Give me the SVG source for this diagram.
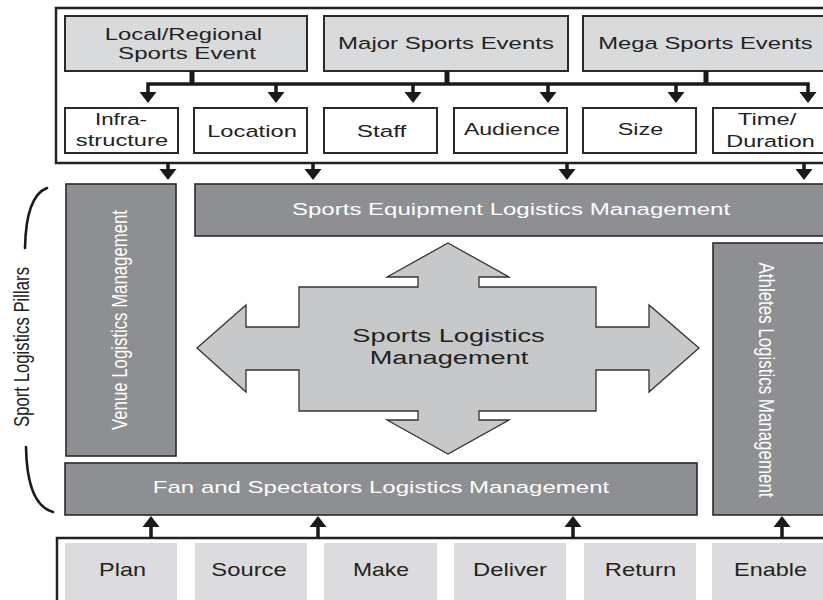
<svg xmlns="http://www.w3.org/2000/svg" xmlns:xlink="http://www.w3.org/1999/xlink" width="823" height="600" viewBox="0 0 823 600">
<style>
  .frame{fill:#fff;stroke:#222;stroke-width:2.5}
  .ev{fill:#d9dadc;stroke:#2a2a2a;stroke-width:2}
  .fac{fill:#fff;stroke:#2a2a2a;stroke-width:2}
  .pil{fill:#8e8f93;stroke:#2a2a2a;stroke-width:1.6}
  .step{fill:#dcdcde;stroke:none}
  .cross{fill:#c7c8ca;stroke:#333;stroke-width:1.3}
  .t{font-family:"Liberation Sans",Arial,sans-serif;fill:#222;text-anchor:middle}
  .w{fill:#fff}
  .conn{fill:none;stroke:#1a1a1a;stroke-width:3.5;stroke-linejoin:miter}
  .stem{fill:none;stroke:#1a1a1a;stroke-width:5}
  .ah{fill:#1a1a1a}
  .brace{fill:none;stroke:#1a1a1a;stroke-width:2.6;stroke-linecap:round}
</style>
<defs>
  <path id="ah" class="ah" d="M-8.5,-11 L8.5,-11 L0,0 Z"/>
</defs>
<rect width="823" height="600" fill="#fff"/>

<!-- frames -->
<rect id="topFrame" class="frame" x="56" y="8" width="790" height="155"/>
<rect id="bottomFrame" class="frame" x="57" y="538" width="790" height="80"/>

<!-- event nodes -->
<g id="local"><rect class="ev" x="65" y="16" width="242" height="55"/>
  <text class="t" font-size="17" textLength="121" lengthAdjust="spacingAndGlyphs" transform="translate(183.5,40) scale(1.3,1)">Local/Regional</text>
  <text class="t" font-size="17" textLength="106" lengthAdjust="spacingAndGlyphs" transform="translate(187,59) scale(1.3,1)">Sports Event</text></g>
<g id="major"><rect class="ev" x="324" y="16" width="244" height="55"/>
  <text class="t" font-size="17" textLength="166" lengthAdjust="spacingAndGlyphs" transform="translate(446,49) scale(1.3,1)">Major Sports Events</text></g>
<g id="mega"><rect class="ev" x="583" y="16" width="260" height="55"/>
  <text class="t" font-size="17" textLength="165" lengthAdjust="spacingAndGlyphs" transform="translate(705.5,49) scale(1.3,1)">Mega Sports Events</text></g>

<!-- factor nodes -->
<g id="infra"><rect class="fac" x="65" y="108" width="113" height="45"/>
  <text class="t" font-size="17" textLength="40" lengthAdjust="spacingAndGlyphs" transform="translate(121,125) scale(1.3,1)">Infra-</text>
  <text class="t" font-size="17" textLength="71" lengthAdjust="spacingAndGlyphs" transform="translate(122,146) scale(1.3,1)">structure</text></g>
<g id="location"><rect class="fac" x="194" y="108" width="113" height="45"/>
  <text class="t" font-size="17" textLength="69" lengthAdjust="spacingAndGlyphs" transform="translate(252,137) scale(1.3,1)">Location</text></g>
<g id="staff"><rect class="fac" x="324" y="108" width="113" height="45"/>
  <text class="t" font-size="17" textLength="38" lengthAdjust="spacingAndGlyphs" transform="translate(381.5,137) scale(1.3,1)">Staff</text></g>
<g id="audience"><rect class="fac" x="454" y="108" width="113" height="45"/>
  <text class="t" font-size="17" textLength="74" lengthAdjust="spacingAndGlyphs" transform="translate(512,135) scale(1.3,1)">Audience</text></g>
<g id="size"><rect class="fac" x="583" y="108" width="113" height="45"/>
  <text class="t" font-size="17" textLength="35" lengthAdjust="spacingAndGlyphs" transform="translate(640.5,135) scale(1.3,1)">Size</text></g>
<g id="time"><rect class="fac" x="713" y="108" width="130" height="45"/>
  <text class="t" font-size="17" textLength="45" lengthAdjust="spacingAndGlyphs" transform="translate(767,125) scale(1.3,1)">Time/</text>
  <text class="t" font-size="17" textLength="68" lengthAdjust="spacingAndGlyphs" transform="translate(770.5,147) scale(1.3,1)">Duration</text></g>

<!-- pillars -->
<g id="venue"><rect class="pil" x="66" y="184" width="110" height="272"/>
  <text class="t w" font-size="16.5" textLength="220" lengthAdjust="spacingAndGlyphs" transform="translate(127,320) scale(1.3,1) rotate(-90)">Venue Logistics Management</text></g>
<g id="equipment"><rect class="pil" x="195" y="184" width="650" height="52"/>
  <text class="t w" font-size="17" textLength="337" lengthAdjust="spacingAndGlyphs" transform="translate(511,215) scale(1.3,1)">Sports Equipment Logistics Management</text></g>
<g id="athletes"><rect class="pil" x="713" y="243" width="130" height="272"/>
  <text class="t w" font-size="17" textLength="235" lengthAdjust="spacingAndGlyphs" transform="translate(759,380) scale(1.3,1) rotate(90)">Athletes Logistics Management</text></g>
<g id="fan"><rect class="pil" x="65" y="463" width="632" height="52"/>
  <text class="t w" font-size="16" textLength="351" lengthAdjust="spacingAndGlyphs" transform="translate(381,493) scale(1.3,1)">Fan and Spectators Logistics Management</text></g>

<!-- central -->
<g id="central">
  <polygon class="cross" points="448,243 509,277 479,277 479,287 596,287 596,327 649,327 649,305 699,348 649,392 649,370 596,370 596,411 479,411 479,420 509,420 448,454 387,420 418,420 418,411 299,411 299,370 246,370 246,392 197,348 246,305 246,327 299,327 299,287 418,287 418,277 387,277"/>
  <text class="t" font-size="19" textLength="148" lengthAdjust="spacingAndGlyphs" transform="translate(448.5,342) scale(1.3,1)">Sports Logistics</text>
  <text class="t" font-size="19" textLength="122" lengthAdjust="spacingAndGlyphs" transform="translate(449,364) scale(1.3,1)">Management</text>
</g>

<!-- side label -->
<g id="pillarsLabel">
  <path class="brace" d="M47,188 Q26,196 25,248"/>
  <path class="brace" d="M26,447 Q27,505 53,512"/>
  <text class="t" font-size="16.5" textLength="160" lengthAdjust="spacingAndGlyphs" transform="translate(29,347) scale(1.3,1) rotate(-90)">Sport Logistics Pillars</text>
</g>

<!-- steps -->
<g id="plan"><rect class="step" x="65" y="543" width="112" height="70"/>
  <text class="t" font-size="18" textLength="36" lengthAdjust="spacingAndGlyphs" transform="translate(122.5,576) scale(1.3,1)">Plan</text></g>
<g id="source"><rect class="step" x="195" y="543" width="112" height="70"/>
  <text class="t" font-size="18" textLength="58" lengthAdjust="spacingAndGlyphs" transform="translate(249,576) scale(1.3,1)">Source</text></g>
<g id="make"><rect class="step" x="324" y="543" width="113" height="70"/>
  <text class="t" font-size="18" textLength="43" lengthAdjust="spacingAndGlyphs" transform="translate(381,576) scale(1.3,1)">Make</text></g>
<g id="deliver"><rect class="step" x="454" y="543" width="112" height="70"/>
  <text class="t" font-size="18" textLength="57" lengthAdjust="spacingAndGlyphs" transform="translate(510,576) scale(1.3,1)">Deliver</text></g>
<g id="return"><rect class="step" x="584" y="543" width="112" height="70"/>
  <text class="t" font-size="18" textLength="55" lengthAdjust="spacingAndGlyphs" transform="translate(640.5,576) scale(1.3,1)">Return</text></g>
<g id="enable"><rect class="step" x="712" y="543" width="130" height="70"/>
  <text class="t" font-size="18" textLength="56" lengthAdjust="spacingAndGlyphs" transform="translate(770.5,576) scale(1.3,1)">Enable</text></g>

<!-- connectors -->
<g id="connectors">
  <path class="stem" d="M192,71 V84 M447,71 V84 M706,71 V84"/>
  <path class="conn" d="M148,93 V84 H808 V93 M276,84 V93 M413,84 V93 M548,84 V93 M676,84 V93"/>
  <use xlink:href="#ah" x="148" y="103"/>
  <use xlink:href="#ah" x="276" y="103"/>
  <use xlink:href="#ah" x="413" y="103"/>
  <use xlink:href="#ah" x="548" y="103"/>
  <use xlink:href="#ah" x="676" y="103"/>
  <use xlink:href="#ah" x="808" y="103"/>
  <path class="conn" d="M168,163 V170 M313,163 V170 M567,163 V170 M804,163 V170"/>
  <use xlink:href="#ah" x="168" y="180"/>
  <use xlink:href="#ah" x="313" y="180"/>
  <use xlink:href="#ah" x="567" y="180"/>
  <use xlink:href="#ah" x="804" y="180"/>
  <path class="conn" d="M151,538 V526 M318,538 V526 M573,538 V526 M782,538 V526"/>
  <use xlink:href="#ah" transform="translate(151,516) rotate(180)"/>
  <use xlink:href="#ah" transform="translate(318,516) rotate(180)"/>
  <use xlink:href="#ah" transform="translate(573,516) rotate(180)"/>
  <use xlink:href="#ah" transform="translate(782,516) rotate(180)"/>
</g>
</svg>
